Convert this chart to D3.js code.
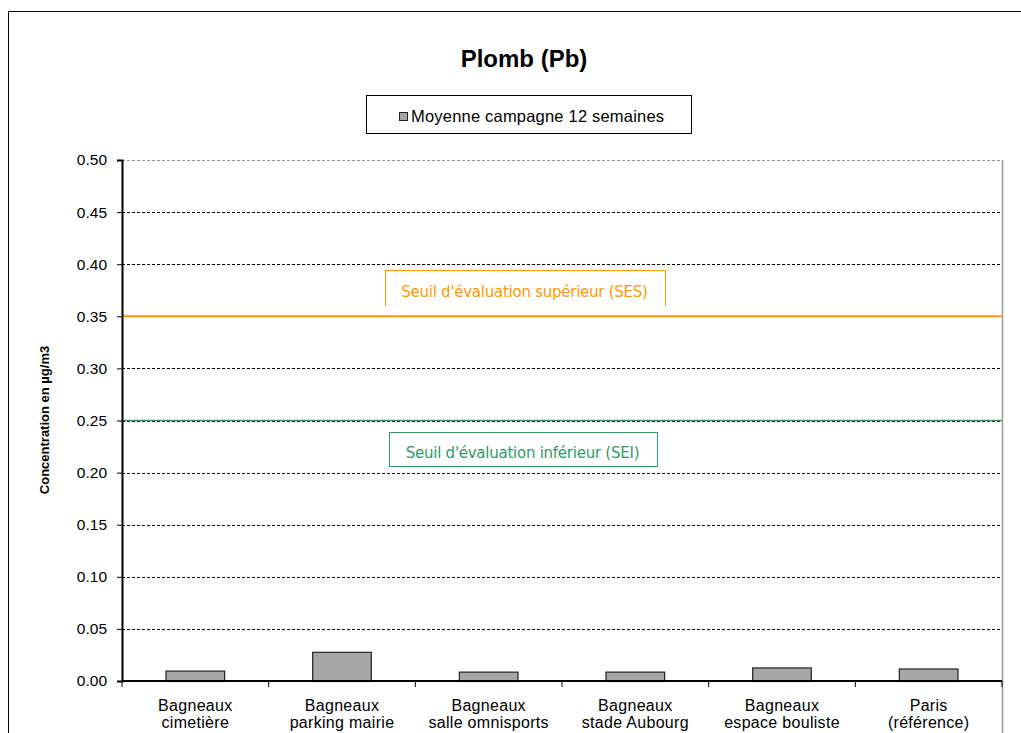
<!DOCTYPE html>
<html><head><meta charset="utf-8">
<script src="https://cdn.jsdelivr.net/npm/d3@7"></script>
<style>body{margin:0;background:#fff}svg{display:block;font-family:"Liberation Sans",Arial,sans-serif}</style>
</head><body><svg id="c" width="1021" height="733"></svg>
<script>
const categories = [["Bagneaux","cimetière"],["Bagneaux","parking mairie"],["Bagneaux","salle omnisports"],["Bagneaux","stade Aubourg"],["Bagneaux","espace bouliste"],["Paris","(référence)"]];
const values = [0.010, 0.028, 0.009, 0.009, 0.013, 0.012];
const yTicks = [0,0.05,0.10,0.15,0.20,0.25,0.30,0.35,0.40,0.45,0.50];
const thresholds = [{label:"Seuil d'évaluation supérieur (SES)", value:0.35, color:"#ff9900"},{label:"Seuil d'évaluation inférieur (SEI)", value:0.25, color:"#339966"}];
const title = "Plomb (Pb)";
const legendLabel = "Moyenne campagne 12 semaines";
const yLabel = "Concentration en µg/m3";

const svg = d3.select("#c");
const L=122,R=1002,T=160,B=681;
svg.append("rect").attr("x",8.5).attr("y",11.5).attr("width",1030).attr("height",740).attr("fill","#fff").attr("stroke","#000").attr("stroke-width",1);

const x = d3.scaleBand().domain(d3.range(categories.length)).range([L,R]).paddingInner(0).paddingOuter(0);
const y = d3.scaleLinear().domain([0,0.5]).range([B,T]);

// plot area right border
svg.append("line").attr("x1",R+0.5).attr("x2",R+0.5).attr("y1",T).attr("y2",733).attr("stroke","#9a9a9a").attr("stroke-width",1.5);

// gridlines
svg.append("g").selectAll("line").data(yTicks.filter(d=>d>0)).join("line")
 .attr("x1",L).attr("x2",R).attr("y1",d=>Math.round(y(d))+0.5).attr("y2",d=>Math.round(y(d))+0.5)
 .attr("stroke",d=>d===0.5?"#999":"#000").attr("stroke-width",1).attr("stroke-dasharray","3,2");

// thresholds
thresholds.forEach((t,i)=>{
  svg.append("line").attr("x1",L).attr("x2",R).attr("y1",y(t.value)).attr("y2",y(t.value))
   .attr("stroke",t.color).attr("stroke-width",i===0?2:1.5);
});
const tFont = "'DejaVu Sans',sans-serif";
{
 const t=thresholds[0];
 const x0=385.5,x1=665.5,y0=270.5,y1=306;
 svg.append("path").attr("d",`M${x0},${y1}V${y0}H${x1}V${y1}`).attr("fill","none").attr("stroke",t.color).attr("stroke-width",1);
 svg.append("text").attr("x",(x0+x1)/2-1).attr("y",292).attr("text-anchor","middle").attr("dominant-baseline","middle")
  .attr("fill",t.color).attr("font-size",15).attr("font-family",tFont).attr("letter-spacing","-0.25").text(t.label);
}
{
 const t=thresholds[1];
 svg.append("rect").attr("x",389.5).attr("y",432.5).attr("width",268).attr("height",34).attr("fill","#fff").attr("stroke",t.color).attr("stroke-width",1);
 svg.append("text").attr("x",522.5).attr("y",453).attr("text-anchor","middle").attr("dominant-baseline","middle")
  .attr("fill",t.color).attr("font-size",15).attr("font-family",tFont).attr("letter-spacing","-0.25").text(t.label);
}

// bars
const bw = x.bandwidth()*0.4;
svg.append("g").selectAll("rect").data(values).join("rect")
 .attr("x",(d,i)=>x(i)+x.bandwidth()/2-bw/2).attr("y",d=>y(d)+0.5).attr("width",bw).attr("height",d=>B-y(d))
 .attr("fill","#a6a6a6").attr("stroke","#222").attr("stroke-width",1.2);

// axes
const yAxis = svg.append("g").attr("transform",`translate(${L},0)`)
 .call(d3.axisLeft(y).tickValues(yTicks).tickFormat(d3.format(".2f")).tickSize(5).tickPadding(10));
yAxis.select(".domain").attr("stroke","#000").attr("stroke-width",2);
yAxis.selectAll(".tick line").attr("stroke","#000");
yAxis.selectAll("text").attr("font-size",15.5).attr("font-family","'Liberation Sans',Arial,sans-serif").attr("fill","#000");

svg.append("line").attr("x1",L).attr("x2",R).attr("y1",B).attr("y2",B).attr("stroke","#000").attr("stroke-width",2);
svg.append("g").selectAll("line").data(d3.range(categories.length+1)).join("line")
 .attr("x1",i=>L+i*x.bandwidth()).attr("x2",i=>L+i*x.bandwidth()).attr("y1",B).attr("y2",B+6).attr("stroke","#000");

const xl = svg.append("g").selectAll("text").data(categories).join("text")
 .attr("x",(d,i)=>x(i)+x.bandwidth()/2).attr("text-anchor","middle").attr("font-size",16).attr("letter-spacing","0.3").attr("fill","#000");
xl.append("tspan").attr("x",(d,i)=>x(i)+x.bandwidth()/2).attr("y",711).text(d=>d[0]);
xl.append("tspan").attr("x",(d,i)=>x(i)+x.bandwidth()/2).attr("y",728).text(d=>d[1]);

// title
svg.append("text").attr("x",524).attr("y",67).attr("text-anchor","middle").attr("font-size",24).attr("font-weight","bold").text(title);

// legend
svg.append("rect").attr("x",366.5).attr("y",95.5).attr("width",325).attr("height",38).attr("fill","#fff").attr("stroke","#000").attr("stroke-width",1);
svg.append("rect").attr("x",399.5).attr("y",112.5).attr("width",8).attr("height",8).attr("fill","#a6a6a6").attr("stroke","#222");
svg.append("text").attr("x",411).attr("y",122).attr("font-size",16.5).attr("letter-spacing","0.2").text(legendLabel);

// y label
svg.append("text").attr("transform",`translate(49,420) rotate(-90)`).attr("text-anchor","middle").attr("font-size",13).attr("font-weight","bold").text(yLabel);
</script></body></html>
